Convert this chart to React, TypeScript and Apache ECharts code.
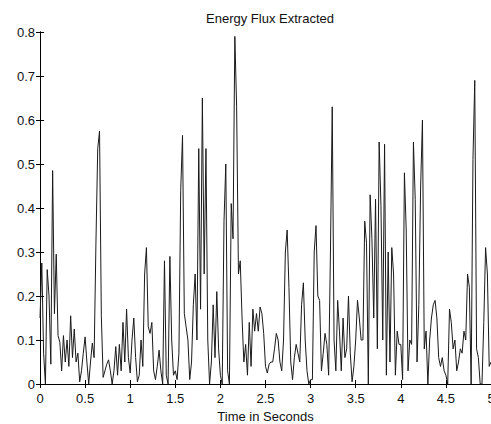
import React, { useEffect, useRef } from "react";
import * as echarts from "echarts";

// Sampling step (seconds) of the energy flux series
const timeStep = 0.02;

// Energy flux values, one array per half second (25 samples each)
const flux0 = [0.15, 0.275, 0.07, 0.0, 0.26, 0.2, 0.045, 0.485, 0.16, 0.295, 0.11, 0.095, 0.03, 0.11, 0.05, 0.1, 0.04, 0.155, 0.06, 0.125, 0.05, 0.07, 0.005, 0.03, 0.07];
const flux1 = [0.107, 0.05, 0.0, 0.05, 0.093, 0.06, 0.32, 0.535, 0.575, 0.155, 0.015, 0.03, 0.045, 0.055, 0.03, 0.0, 0.03, 0.085, 0.02, 0.09, 0.03, 0.14, 0.05, 0.17, 0.06];
const flux2 = [0.025, 0.1, 0.15, 0.06, 0.005, 0.02, 0.1, 0.04, 0.25, 0.31, 0.13, 0.115, 0.14, 0.03, 0.01, 0.04, 0.077, 0.03, 0.0, 0.28, 0.02, 0.0, 0.29, 0.1, 0.02];
const flux3 = [0.03, 0.01, 0.07, 0.44, 0.565, 0.16, 0.13, 0.1, 0.01, 0.05, 0.18, 0.25, 0.1, 0.535, 0.17, 0.65, 0.25, 0.535, 0.1, 0.0, 0.05, 0.18, 0.06, 0.21, 0.08];
const flux4 = [0.02, 0.0, 0.37, 0.5, 0.03, 0.0, 0.41, 0.33, 0.79, 0.63, 0.25, 0.28, 0.15, 0.05, 0.09, 0.02, 0.14, 0.04, 0.17, 0.12, 0.16, 0.12, 0.175, 0.16, 0.115];
const flux5 = [0.04, 0.025, 0.045, 0.05, 0.05, 0.08, 0.115, 0.1, 0.05, 0.03, 0.1, 0.3, 0.35, 0.22, 0.05, 0.01, 0.06, 0.09, 0.07, 0.05, 0.18, 0.23, 0.1, 0.03, 0.0];
const flux6 = [0.01, 0.01, 0.3, 0.36, 0.2, 0.19, 0.03, 0.07, 0.115, 0.09, 0.02, 0.3, 0.63, 0.1, 0.03, 0.19, 0.12, 0.03, 0.15, 0.06, 0.08, 0.2, 0.07, 0.005, 0.04];
const flux7 = [0.1, 0.19, 0.15, 0.1, 0.1, 0.37, 0.32, 0.0, 0.43, 0.33, 0.15, 0.42, 0.08, 0.55, 0.405, 0.1, 0.545, 0.02, 0.3, 0.05, 0.31, 0.25, 0.02, 0.12, 0.09];
const flux8 = [0.09, 0.01, 0.48, 0.35, 0.03, 0.1, 0.09, 0.55, 0.42, 0.05, 0.18, 0.45, 0.6, 0.08, 0.12, 0.0, 0.1, 0.15, 0.18, 0.19, 0.15, 0.06, 0.04, 0.06, 0.03];
const flux9 = [0.02, 0.0, 0.17, 0.14, 0.08, 0.1, 0.03, 0.05, 0.08, 0.07, 0.12, 0.1, 0.25, 0.22, 0.0, 0.51, 0.69, 0.08, 0.06, 0.0, 0.0, 0.14, 0.31, 0.25, 0.04];
const fluxEnd = [0.05];

const fluxValues = [
  ...flux0, ...flux1, ...flux2, ...flux3, ...flux4,
  ...flux5, ...flux6, ...flux7, ...flux8, ...flux9, ...fluxEnd,
];

const xTicks = [0, 0.5, 1, 1.5, 2, 2.5, 3, 3.5, 4, 4.5, 5];
const yTicks = [0, 0.1, 0.2, 0.3, 0.4, 0.5, 0.6, 0.7, 0.8];

const titleText = "Energy Flux Extracted";
const xAxisName = "Time in Seconds";

export default function App() {
  const ref = useRef<HTMLDivElement>(null);

  useEffect(() => {
    if (!ref.current) return;
    const chart = echarts.init(ref.current, null, { renderer: "svg" });
    const data = fluxValues.map((v, i) => [+(i * timeStep).toFixed(4), v]);
    const font = "Liberation Sans, Arial, sans-serif";
    const xMin = xTicks[0];
    const xMax = xTicks[xTicks.length - 1];
    const yMin = yTicks[0];
    const yMax = yTicks[yTicks.length - 1];
    const xInt = xTicks[1] - xTicks[0];
    const yInt = yTicks[1] - yTicks[0];
    const axisLine = { show: true, lineStyle: { color: "#000", width: 1 } };
    const tick = { show: true, inside: true, length: 4, lineStyle: { color: "#000", width: 1 } };

    chart.setOption({
      animation: false,
      backgroundColor: "#fff",
      title: {
        text: titleText,
        left: 265,
        top: 7,
        textAlign: "center",
        textStyle: { fontFamily: font, fontSize: 13, fontWeight: "normal", color: "#111" },
      },
      grid: {
        left: 40,
        top: 32,
        width: 451,
        height: 352,
        containLabel: false,
        outerBoundsMode: "none",
      },
      xAxis: [
        {
          type: "value",
          min: xMin,
          max: xMax,
          interval: xInt,
          position: "bottom",
          axisLine,
          axisTick: tick,
          splitLine: { show: false },
          axisLabel: {
            margin: 8,
            fontFamily: font,
            fontSize: 13,
            color: "#111",
            showMaxLabel: true,
            showMinLabel: true,
          },
          name: xAxisName,
          nameLocation: "middle",
          nameGap: 25,
          nameTextStyle: { fontFamily: font, fontSize: 13, color: "#111" },
        },
        {
          type: "value",
          min: xMin,
          max: xMax,
          interval: xInt,
          position: "top",
          axisLine,
          axisTick: tick,
          splitLine: { show: false },
          axisLabel: { show: false },
        },
      ],
      yAxis: [
        {
          type: "value",
          min: yMin,
          max: yMax,
          interval: yInt,
          position: "left",
          axisLine,
          axisTick: tick,
          splitLine: { show: false },
          axisLabel: {
            margin: 5,
            fontFamily: font,
            fontSize: 13,
            color: "#111",
            formatter: (v: number) => (v === 0 ? "0" : String(+v.toFixed(1))),
          },
        },
        {
          type: "value",
          min: yMin,
          max: yMax,
          interval: yInt,
          position: "right",
          axisLine,
          axisTick: tick,
          splitLine: { show: false },
          axisLabel: { show: false },
        },
      ],
      series: [
        {
          type: "line",
          data,
          xAxisIndex: 0,
          yAxisIndex: 0,
          showSymbol: false,
          symbol: "none",
          lineStyle: { color: "#1a1a1a", width: 1 },
          clip: true,
        },
      ],
    });
    return () => chart.dispose();
  }, []);

  return (
    <div
      ref={ref}
      style={{ position: "fixed", left: 0, top: 0, width: 491, height: 424, background: "#fff" }}
    />
  );
}
